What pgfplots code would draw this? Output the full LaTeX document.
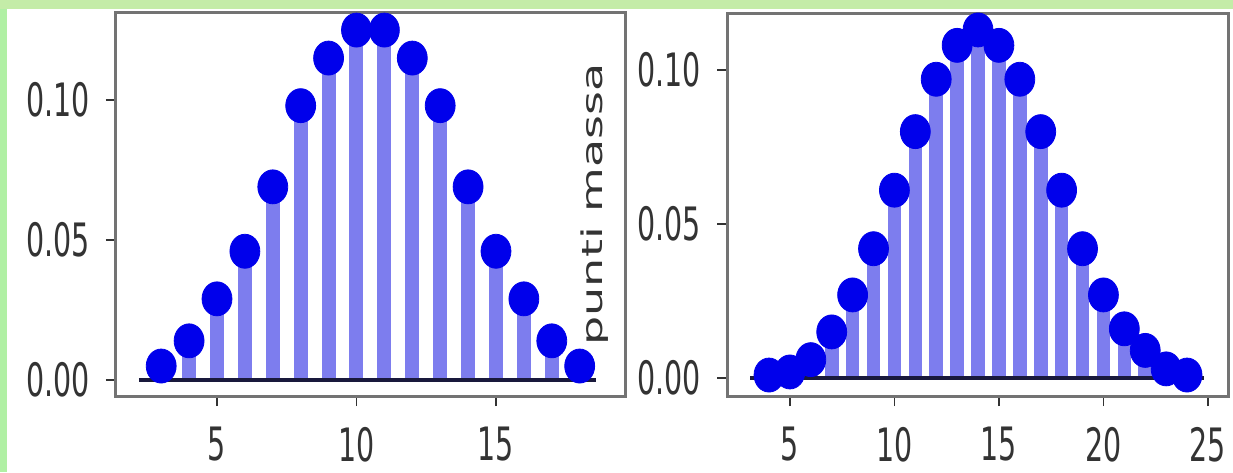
\documentclass[border=0pt]{standalone}
\usepackage{pgfplots}
\pgfplotsset{compat=1.18}
\usepackage{fontspec}
\setmainfont{DejaVu Sans}
\newfontfamily\sq[FakeStretch=0.62]{DejaVu Sans}
\definecolor{barc}{RGB}{125,125,238}
\definecolor{mkc}{RGB}{0,0,235}
\definecolor{topgreen}{RGB}{196,236,168}
\definecolor{leftgreen}{RGB}{176,240,164}
\definecolor{framegray}{RGB}{115,115,115}
\definecolor{basec}{RGB}{25,25,60}

\pgfplotstableread{
x y
3 0.005
4 0.014
5 0.029
6 0.046
7 0.069
8 0.098
9 0.115
10 0.125
11 0.125
12 0.115
13 0.098
14 0.069
15 0.046
16 0.029
17 0.014
18 0.005
}\leftdata

\pgfplotstableread{
x y
4 0.001
5 0.002
6 0.006
7 0.015
8 0.027
9 0.042
10 0.061
11 0.080
12 0.097
13 0.108
14 0.113
15 0.108
16 0.097
17 0.080
18 0.061
19 0.042
20 0.027
21 0.016
22 0.009
23 0.003
24 0.001
}\rightdata

\pgfplotsset{
  pm/.style={
    scale only axis,
    anchor=south west,
    height=191.5pt,
    clip=false,
    axis line style={draw=framegray, line width=1.5pt},
    tick align=outside,
    xtick pos=bottom,
    ytick pos=left,
    major tick length=5pt,
    tick style={black!80, line width=0.8pt},
    ytick={0,0.05,0.1},
    /pgf/number format/assume math mode=true,
    tick label style={font=\sq\fontsize{23}{23}\selectfont, text=black!80},
    yticklabel style={/pgf/number format/fixed, /pgf/number format/fixed zerofill, /pgf/number format/precision=2, inner sep=0pt, xshift=-8pt},
    xticklabel style={inner sep=0pt, yshift=-10.5pt},
  }
}

\begin{document}
\begin{tikzpicture}
\useasboundingbox (0,0) rectangle (616.5pt,236pt);
\fill[white] (0,0) rectangle (616.5pt,236pt);

\begin{axis}[pm,
  at={(58pt,38pt)},
  width=255pt,
  xmin=1.38, xmax=19.66,
  ymin=-0.0057, ymax=0.1311,
  xtick={5,10,15},
]
\addplot[ycomb, draw=barc, line width=7pt, mark=none] table[x=x,y=y] {\leftdata};
\addplot[draw=basec, line width=2pt, mark=none] coordinates {(2.2,0) (18.6,0)};
\addplot[only marks, mark=*, mark size=8.5pt, mark options={xscale=0.88, fill=mkc, draw=mkc}] table[x=x,y=y] {\leftdata};
\end{axis}

\begin{axis}[pm,
  at={(363.5pt,38pt)},
  width=250.5pt,
  xmin=1.99, xmax=25.96,
  ymin=-0.0058, ymax=0.1185,
  xtick={5,10,15,20,25},
  ylabel={\scalebox{1}[0.62]{punti massa}},
  every axis y label/.style={at={(axis description cs:-0.2635,0.5)}, rotate=90, anchor=center, font=\fontsize{23}{23}\selectfont, text=black!80},
]
\addplot[ycomb, draw=barc, line width=6.8pt, mark=none] table[x=x,y=y] {\rightdata};
\addplot[draw=basec, line width=2pt, mark=none] coordinates {(3.1,0) (24.8,0)};
\addplot[only marks, mark=*, mark size=8.5pt, mark options={xscale=0.88, fill=mkc, draw=mkc}] table[x=x,y=y] {\rightdata};
\end{axis}

\fill[leftgreen] (0,0) rectangle (3.5pt,236pt);
\fill[topgreen] (0,231.5pt) rectangle (616.5pt,236pt);
\end{tikzpicture}
\end{document}
